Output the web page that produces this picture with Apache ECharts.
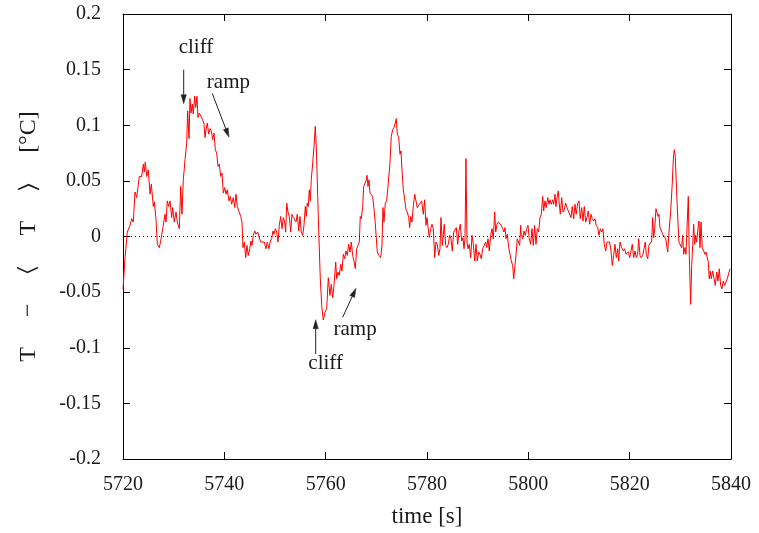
<!DOCTYPE html>
<html>
<head>
<meta charset="utf-8">
<script src="https://cdn.jsdelivr.net/npm/echarts@6/dist/echarts.min.js"></script>
<style>
  html, body { margin: 0; padding: 0; background: #fff; }
  #chart { width: 759px; height: 533px; }
</style>
</head>
<body>
<div id="chart"></div>
<script>
// Temperature fluctuation record: sample times [s] and T - <T> [°C]
const times = [
  5720.00,5720.39,5720.85,5721.38,5721.72,5722.03,5722.37,5722.70,5723.22,5723.69,
  5724.01,5724.20,5724.40,5724.68,5724.99,5725.33,5725.59,5725.98,5726.18,5726.51,
  5726.77,5727.16,5727.44,5727.70,5727.95,5728.29,5728.49,5728.74,5729.02,5729.28,
  5729.61,5729.81,5730.12,5730.46,5730.72,5731.11,5731.39,5731.64,5731.90,5732.24,
  5732.57,5732.77,5733.03,5733.22,5733.42,5733.68,5733.87,5734.15,5734.35,5734.60,
  5734.80,5735.06,5735.39,5735.73,5735.99,5736.18,5736.38,5736.64,5736.91,5737.17,
  5737.43,5737.70,5737.96,5738.22,5738.49,5738.75,5739.01,5739.28,5739.54,5739.80,
  5740.07,5740.33,5740.58,5740.92,5741.18,5741.45,5741.77,5742.05,5742.30,5742.56,
  5742.89,5743.23,5743.49,5743.68,5743.94,5744.22,5744.47,5744.73,5745.01,5745.26,
  5745.46,5745.72,5745.99,5746.25,5746.58,5746.90,5747.18,5747.57,5747.89,5748.22,
  5748.48,5748.81,5749.07,5749.35,5749.60,5749.80,5750.06,5750.33,5750.59,5750.85,
  5751.12,5751.38,5751.64,5751.91,5752.11,5752.31,5752.56,5752.82,5753.10,5753.35,
  5753.61,5753.89,5754.14,5754.40,5754.68,5754.93,5755.19,5755.47,5755.72,5755.98,
  5756.18,5756.37,5756.57,5756.77,5756.97,5757.16,5757.44,5757.70,5757.95,5758.15,
  5758.43,5758.68,5758.94,5759.22,5759.53,5759.87,5760.20,5760.52,5760.85,5761.11,
  5761.39,5761.64,5761.98,5762.18,5762.43,5762.69,5762.97,5763.22,5763.48,5763.76,
  5764.01,5764.27,5764.54,5764.80,5765.06,5765.33,5765.59,5765.85,5766.12,5766.38,
  5766.64,5766.83,5767.03,5767.31,5767.51,5767.76,5767.96,5768.16,5768.35,5768.55,
  5768.75,5769.00,5769.28,5769.60,5769.79,5769.93,5770.19,5770.52,5770.86,5771.12,
  5771.31,5771.51,5771.77,5772.04,5772.36,5772.69,5772.95,5773.23,5773.48,5773.74,
  5773.94,5774.14,5774.41,5774.67,5774.87,5775.06,5775.32,5775.60,5775.85,5776.11,
  5776.39,5776.58,5776.78,5777.04,5777.29,5777.57,5777.83,5778.08,5778.36,5778.62,
  5778.95,5779.27,5779.54,5779.80,5780.00,5780.25,5780.45,5780.73,5780.98,5781.24,
  5781.52,5781.77,5782.03,5782.31,5782.56,5782.76,5783.02,5783.21,5783.41,5783.69,
  5783.94,5784.20,5784.48,5784.73,5784.99,5785.27,5785.52,5785.78,5786.06,5786.31,
  5786.57,5786.85,5787.10,5787.30,5787.50,5787.69,5787.89,5788.09,5788.35,5788.62,
  5788.88,5789.14,5789.41,5789.67,5789.92,5790.20,5790.46,5790.71,5790.99,5791.31,
  5791.58,5791.78,5792.04,5792.29,5792.57,5792.83,5793.08,5793.36,5793.56,5793.81,
  5794.07,5794.40,5794.66,5794.94,5795.19,5795.39,5795.59,5795.85,5796.12,5796.38,
  5796.64,5796.91,5797.11,5797.37,5797.62,5797.82,5798.10,5798.29,5798.49,5798.61,
  5798.89,5799.14,5799.40,5799.68,5799.93,5800.19,5800.46,5800.72,5800.98,5801.25,
  5801.51,5801.77,5802.04,5802.30,5802.56,5802.83,5803.03,5803.29,5803.54,5803.82,
  5804.08,5804.27,5804.53,5804.81,5805.00,5805.26,5805.46,5805.71,5805.91,5806.11,
  5806.31,5806.58,5806.84,5807.10,5807.37,5807.63,5807.89,5808.16,5808.42,5808.67,
  5808.95,5809.21,5809.46,5809.74,5810.00,5810.25,5810.53,5810.79,5811.04,5811.32,
  5811.58,5811.83,5812.11,5812.36,5812.62,5812.90,5813.15,5813.41,5813.69,5813.94,
  5814.20,5814.48,5814.73,5814.99,5815.27,5815.52,5815.78,5816.05,5816.31,5816.57,
  5816.84,5817.10,5817.36,5817.63,5817.83,5818.09,5818.42,5818.74,5819.01,5819.27,
  5819.53,5819.73,5820.00,5820.26,5820.52,5820.79,5821.05,5821.31,5821.58,5821.78,
  5822.04,5822.29,5822.57,5822.83,5823.08,5823.28,5823.56,5823.81,5824.07,5824.34,
  5824.54,5824.74,5824.94,5825.19,5825.39,5825.59,5825.78,5825.98,5826.24,5826.52,
  5826.78,5827.11,5827.51,5827.76,5828.09,5828.41,5828.61,5828.80,5829.00,5829.28,
  5829.53,5829.73,5829.99,5830.26,5830.46,5830.66,5830.92,5831.11,5831.37,5831.57,
  5831.77,5832.04,5832.24,5832.44,5832.63,5832.83,5833.03,5833.23,5833.48,5833.68,
  5833.88,5834.08,5834.33,5834.61,5834.86,5835.06,5835.32,5835.52,5835.71,5835.91,
  5836.11,5836.38,5836.64,5836.90,5837.18,5837.43,5837.69,5837.96,5838.22,5838.47,
  5838.75,5839.01,5839.26,5839.54,5839.80
];
const temps = [
  -0.047,-0.020,0.004,0.010,0.016,0.013,0.040,0.035,0.054,0.054,
  0.065,0.058,0.067,0.054,0.060,0.038,0.047,0.027,0.031,0.016,
  -0.007,-0.010,-0.004,-0.005,0.010,0.020,0.013,0.032,0.027,0.032,
  0.017,0.026,0.013,0.022,0.013,0.007,0.045,0.020,0.051,0.069,
  0.084,0.113,0.088,0.124,0.111,0.119,0.110,0.126,0.116,0.126,
  0.107,0.111,0.110,0.105,0.101,0.089,0.096,0.102,0.092,0.097,
  0.095,0.087,0.093,0.078,0.075,0.063,0.065,0.054,0.057,0.039,
  0.044,0.038,0.042,0.032,0.036,0.029,0.035,0.026,0.038,0.027,
  0.027,0.018,0.013,-0.010,-0.005,-0.019,-0.008,-0.017,-0.011,-0.004,
  -0.008,0.001,0.005,0.002,0.004,-0.001,-0.005,-0.005,-0.005,-0.011,
  -0.005,-0.011,-0.004,-0.002,0.005,0.002,0.007,0.004,-0.005,0.010,
  0.018,0.007,0.017,0.013,0.004,0.030,0.022,0.018,0.004,0.020,
  0.017,0.018,0.013,0.020,0.005,0.018,0.004,0.001,0.010,0.027,
  0.018,0.030,0.027,0.042,0.032,0.051,0.066,0.081,0.099,0.081,
  0.036,-0.002,-0.038,-0.062,-0.075,-0.068,-0.065,-0.037,-0.053,-0.043,
  -0.055,-0.044,-0.023,-0.038,-0.032,-0.035,-0.025,-0.031,-0.016,-0.020,
  -0.013,-0.017,-0.007,-0.014,-0.005,-0.017,-0.022,-0.029,-0.011,-0.008,
  -0.005,0.018,0.016,0.027,0.045,0.046,0.050,0.055,0.045,0.051,
  0.039,0.038,0.036,0.022,0.012,0.013,-0.014,-0.017,-0.019,-0.008,
  0.026,0.013,0.030,0.032,0.048,0.066,0.090,0.096,0.098,0.102,
  0.106,0.092,0.089,0.074,0.077,0.060,0.042,0.033,0.024,0.022,
  0.017,0.008,0.018,0.013,0.027,0.038,0.032,0.026,0.028,0.027,
  0.032,0.020,0.033,0.010,0.017,0.016,-0.001,0.007,0.011,0.007,
  -0.019,-0.005,-0.007,-0.017,-0.011,0.017,-0.008,-0.007,0.011,-0.008,
  -0.010,-0.007,0.001,-0.002,-0.013,0.004,0.004,0.008,-0.007,0.005,
  0.011,-0.004,-0.001,-0.011,-0.002,0.070,-0.005,-0.011,-0.007,-0.019,
  0.001,-0.007,-0.022,-0.007,-0.022,-0.014,-0.016,-0.020,-0.011,-0.010,
  -0.005,-0.010,-0.002,-0.013,0.001,0.007,-0.002,0.022,0.004,0.011,
  0.013,0.014,0.010,0.007,0.004,0.008,-0.002,0.002,-0.010,-0.011,
  -0.022,-0.026,-0.038,-0.026,-0.014,-0.002,-0.002,-0.008,0.010,0.002,
  -0.002,0.005,0.001,0.007,0.010,-0.002,-0.007,0.007,-0.008,0.010,
  -0.007,0.007,0.004,0.017,0.020,0.036,0.023,0.032,0.026,0.035,
  0.029,0.033,0.029,0.033,0.029,0.038,0.027,0.036,0.041,0.029,
  0.020,0.035,0.022,0.024,0.030,0.026,0.023,0.023,0.017,0.027,
  0.016,0.029,0.020,0.030,0.032,0.016,0.026,0.014,0.027,0.013,
  0.017,0.023,0.011,0.020,0.016,0.014,0.016,0.010,0.008,0.001,
  0.007,0.004,0.007,-0.007,-0.013,-0.005,-0.005,-0.005,-0.013,-0.026,
  -0.017,-0.007,-0.019,-0.011,-0.022,-0.005,-0.010,-0.013,-0.011,-0.016,
  -0.017,-0.014,-0.019,-0.020,-0.007,-0.019,-0.013,-0.019,-0.016,-0.002,
  -0.017,-0.019,-0.017,-0.011,-0.005,-0.016,-0.020,-0.008,-0.007,-0.004,
  0.017,-0.001,0.007,0.025,0.024,0.018,0.020,0.008,0.007,0.002,
  0.001,-0.002,-0.014,0.004,0.022,0.048,0.069,0.078,0.072,0.039,
  0.013,-0.005,-0.004,-0.010,0.001,-0.016,-0.010,-0.016,-0.016,0.036,
  -0.017,-0.061,-0.026,-0.008,0.011,-0.007,0.001,-0.005,0.007,0.014,
  -0.010,0.013,-0.010,-0.013,-0.016,-0.014,-0.014,-0.023,-0.038,-0.031,
  -0.038,-0.031,-0.031,-0.044,-0.032,-0.040,-0.029,-0.044,-0.047,-0.040,
  -0.044,-0.041,-0.038,-0.038,-0.029
];

// Axis ranges and tick steps
const xRange = [5720, 5840];
const xStep = 20;
const yRange = [-0.2, 0.2];
const yStep = 0.05;

// Annotation texts (data coordinates) and arrows [from, to]
const noteTexts = [
  { text: 'cliff', at: [5734.4, 0.170] },
  { text: 'ramp',  at: [5740.8, 0.1387] },
  { text: 'cliff', at: [5760.0, -0.1145] },
  { text: 'ramp',  at: [5765.8, -0.0838] }
];
const noteArrows = [
  [[5731.98, 0.150], [5731.98, 0.1194]],
  [[5737.62, 0.1285], [5740.92, 0.0893]],
  [[5758.03, -0.1056], [5758.03, -0.0748]],
  [[5763.36, -0.0726], [5765.98, -0.0466]]
];

const serif = '"Liberation Serif", "DejaVu Serif", serif';
const ink = '#1a1a1a';
const gap = '\u2003 ';

const chart = echarts.init(document.getElementById('chart'), null, { renderer: 'canvas' });

const fmtY = v => String(parseFloat(v.toFixed(2)));
const fmtX = v => String(Math.round(v));

const baseAxisStyle = {
  axisLine: { show: true, onZero: false, lineStyle: { color: '#000', width: 1 } },
  axisTick: { show: true, inside: true, length: 7, lineStyle: { color: '#000', width: 1 } },
  splitLine: { show: false }
};

chart.setOption({
  animation: false,
  backgroundColor: '#fff',
  grid: { left: 123, right: 28, top: 14, bottom: 73, containLabel: false },
  xAxis: [
    Object.assign({
      type: 'value', position: 'bottom', min: xRange[0], max: xRange[1], interval: xStep,
      name: 'time [s]', nameLocation: 'middle', nameGap: 46,
      nameTextStyle: { fontFamily: serif, fontSize: 23, color: ink },
      axisLabel: { fontFamily: serif, fontSize: 20, color: ink, margin: 16, formatter: fmtX }
    }, baseAxisStyle),
    Object.assign({
      type: 'value', position: 'top', min: xRange[0], max: xRange[1], interval: xStep,
      axisLabel: { show: false }
    }, baseAxisStyle)
  ],
  yAxis: [
    Object.assign({
      type: 'value', position: 'left', min: yRange[0], max: yRange[1], interval: yStep,
      name: 'T' + gap + '\u2212' + gap + '\u2329' + gap + 'T' + gap + '\u232A' + gap + '[°C]',
      nameLocation: 'middle', nameGap: 82, nameRotate: 90,
      nameTextStyle: { fontFamily: serif, fontSize: 24, color: ink },
      axisLabel: { fontFamily: serif, fontSize: 20, color: ink, margin: 22, formatter: fmtY }
    }, baseAxisStyle),
    Object.assign({
      type: 'value', position: 'right', min: yRange[0], max: yRange[1], interval: yStep,
      axisLabel: { show: false }
    }, baseAxisStyle)
  ],
  series: [{
    type: 'line',
    xAxisIndex: 0,
    yAxisIndex: 0,
    data: times.map((t, i) => [t, temps[i]]),
    showSymbol: false,
    symbol: 'none',
    lineStyle: { color: '#ff0000', width: 1 },
    markLine: {
      silent: true,
      symbol: 'none',
      label: { show: false },
      lineStyle: { color: '#000', width: 1, type: [1, 3] },
      data: [{ yAxis: 0 }]
    },
    z: 3
  }]
});

// Annotations drawn in pixel space from their data coordinates
function toPx(p) { return chart.convertToPixel({ xAxisIndex: 0, yAxisIndex: 0 }, p); }

const elements = [];
noteTexts.forEach(n => {
  const p = toPx(n.at);
  elements.push({
    type: 'text', x: p[0], y: p[1], z: 10,
    style: { text: n.text, fill: ink, font: '21px ' + serif, align: 'center', verticalAlign: 'middle' }
  });
});
noteArrows.forEach(a => {
  const p0 = toPx(a[0]);
  const p1 = toPx(a[1]);
  const dx = p1[0] - p0[0], dy = p1[1] - p0[1];
  const len = Math.sqrt(dx * dx + dy * dy);
  const ux = dx / len, uy = dy / len;
  const hl = 9, hw = 2.6;
  const bx = p1[0] - ux * hl, by = p1[1] - uy * hl;
  elements.push({
    type: 'line', z: 10,
    shape: { x1: p0[0], y1: p0[1], x2: bx, y2: by },
    style: { stroke: '#222', lineWidth: 1 }
  });
  elements.push({
    type: 'polygon', z: 10,
    shape: { points: [[p1[0], p1[1]], [bx - uy * hw, by + ux * hw], [bx + uy * hw, by - ux * hw]] },
    style: { fill: '#222', stroke: '#222', lineWidth: 0.5 }
  });
});
chart.setOption({ graphic: elements });
</script>
</body>
</html>
